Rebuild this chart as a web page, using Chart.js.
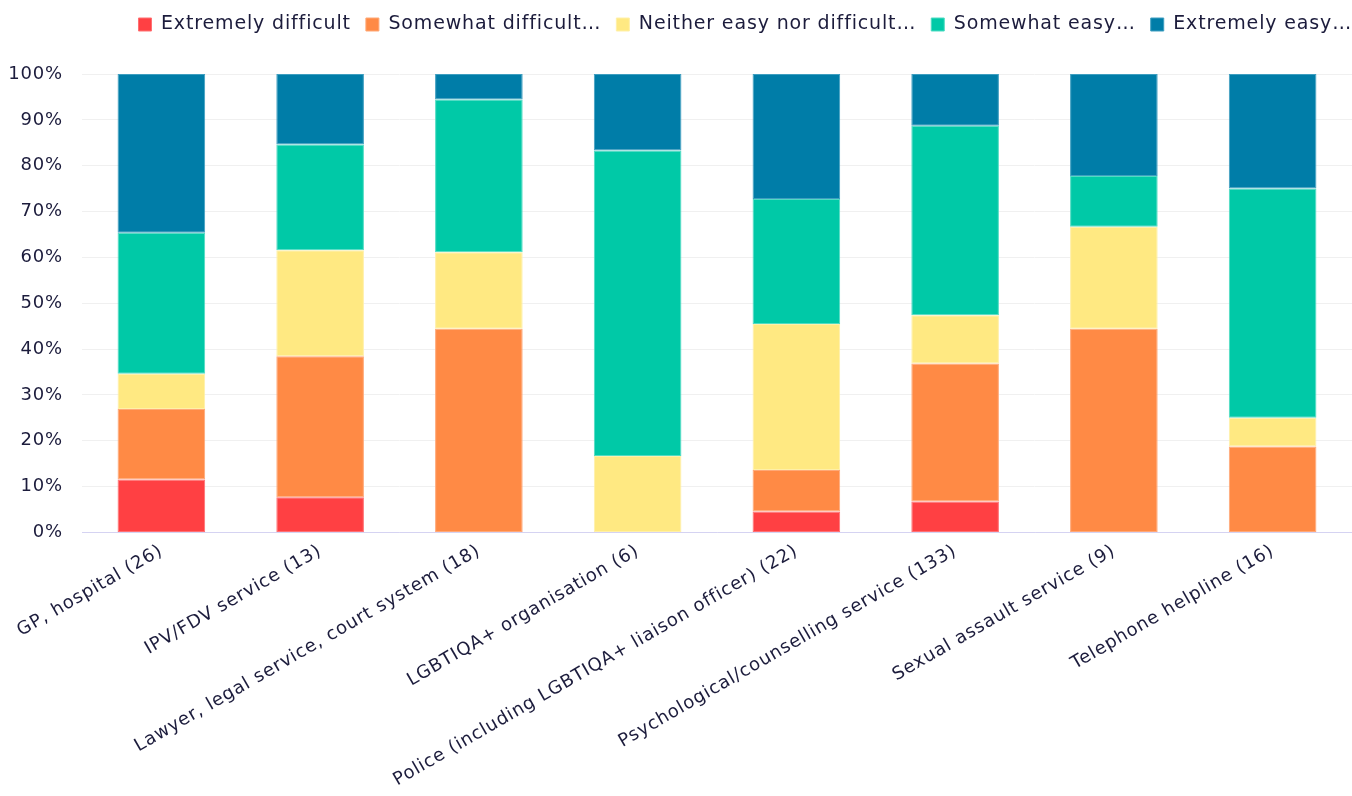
<!DOCTYPE html>
<html>
<head>
<meta charset="utf-8">
<script src="https://cdn.jsdelivr.net/npm/chart.js@4.4.1/dist/chart.umd.min.js"></script>
<style>
html,body{margin:0;padding:0;background:#fff;}
#wrap{width:1352px;height:796px;position:relative;}
</style>
</head>
<body>
<div id="wrap"><canvas id="c"></canvas></div>
<script>
const categories = ["GP, hospital (26)","IPV/FDV service (13)","Lawyer, legal service, court system (18)","LGBTIQA+ organisation (6)","Police (including LGBTIQA+ liaison officer) (22)","Psychological/counselling service (133)","Sexual assault service (9)","Telephone helpline (16)"];
const seriesNames = ["Extremely difficult","Somewhat difficult…","Neither easy nor difficult…","Somewhat easy…","Extremely easy…"];
const extremelyDifficult = [11.54, 7.69, 0, 0, 4.55, 6.77, 0, 0];
const somewhatDifficult  = [15.38, 30.77, 44.44, 0, 9.09, 30.08, 44.44, 18.75];
const neitherEasyNorDifficult = [7.69, 23.08, 16.67, 16.67, 31.82, 10.53, 22.22, 6.25];
const somewhatEasy = [30.77, 23.08, 33.33, 66.67, 27.27, 41.35, 11.11, 50.0];
const extremelyEasy = [34.62, 15.38, 5.56, 16.67, 27.27, 11.28, 22.22, 25.0];
const yTickLabels = ["0%","10%","20%","30%","40%","50%","60%","70%","80%","90%","100%"];

const colors = ["#FF4043","#FF8A45","#FFE982","#00C9A7","#007DA8"];
const borders = ["#FF7073","#FFA877","#FFF0A8","#4FDCC3","#3E9EC0"];
const values = [extremelyDifficult, somewhatDifficult, neitherEasyNorDifficult, somewhatEasy, extremelyEasy];

const FONT = "'DejaVu Sans', 'Noto Sans', sans-serif";
const TEXT = "#1C1C3C";
const SPACING = '0.85px';

const legendGap = {
  id: 'legendGap',
  beforeInit(chart) {
    const origFit = chart.legend.fit;
    chart.legend.fit = function () {
      origFit.bind(chart.legend)();
      this.height += 30;
    };
  },
  beforeLayout(chart) { chart.ctx.letterSpacing = SPACING; },
  afterLayout(chart) { chart.legend.right += 15; },
  beforeDraw(chart) { chart.ctx.letterSpacing = SPACING; }
};

new Chart(document.getElementById('c'), {
  type: 'bar',
  data: {
    labels: categories,
    datasets: seriesNames.map((n, i) => ({
      label: n,
      data: values[i],
      backgroundColor: colors[i],
      borderColor: borders[i],
      borderWidth: 1,
      borderSkipped: false,
      categoryPercentage: 0.8,
      barPercentage: 0.69
    }))
  },
  options: {
    responsive: true,
    maintainAspectRatio: false,
    animation: false,
    layout: { padding: { left: 0, right: 0, top: 0, bottom: 5 } },
    plugins: {
      legend: {
        position: 'top',
        align: 'end',
        labels: {
          boxWidth: 13, boxHeight: 13, padding: 15,
          color: TEXT,
          font: { family: FONT, size: 19 }
        }
      },
      tooltip: { enabled: false }
    },
    scales: {
      x: {
        stacked: true,
        grid: { display: false },
        border: { color: '#D5D3F2', width: 1 },
        afterFit(scale) { scale.paddingLeft = 0; },
        ticks: {
          color: TEXT, minRotation: 30, maxRotation: 30, autoSkip: false, padding: 0,
          font: { family: FONT, size: 18 }
        }
      },
      y: {
        stacked: true,
        min: 0, max: 100,
        grid: { color: '#F0F0F0', drawTicks: false },
        border: { display: false },
        afterFit(scale) { scale.width = 82; },
        ticks: {
          stepSize: 10, padding: 19, color: TEXT,
          font: { family: FONT, size: 18 },
          callback: (v, i) => yTickLabels[i]
        }
      }
    }
  },
  plugins: [legendGap]
});
</script>
</body>
</html>
